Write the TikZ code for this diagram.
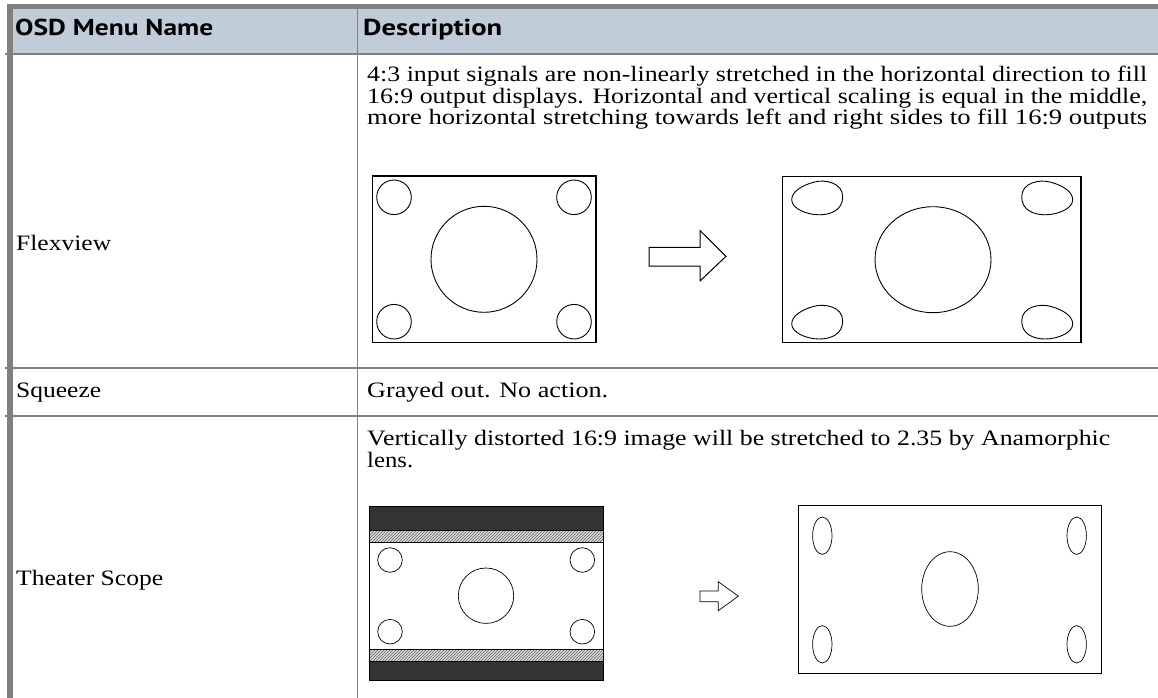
\documentclass[tikz,border=0pt]{standalone}
\usepackage{fontspec}
\setmainfont{Liberation Serif}
\newfontfamily\hdrfont{PT Sans}
\usetikzlibrary{patterns}
\newcommand\fitw[2]{\resizebox{#1}{\height}{#2}}
\definecolor{hdrbg}{RGB}{192,205,217}
\definecolor{rulegray}{RGB}{128,128,128}
\definecolor{bandgray}{RGB}{51,51,51}
\newcommand\eggshape[4]{%
  \begin{scope}[shift={(#1,#2)},xscale=#3]
    \draw[figline] (-25.5,2) .. controls (-25.5,-6) and (-16,-12) .. (-4,-15.5)
      .. controls (8,-19) and (25.5,-15) .. (25.5,-1)
      .. controls (25.5,12) and (14,17) .. (2,17)
      .. controls (-10,17) and (-25.5,11) .. cycle;
    \coordinate (#4) at (0,0);
  \end{scope}}
\begin{document}
\begin{tikzpicture}[x=1pt,y=-1pt,
  bodytext/.style={anchor=base west,inner sep=0pt,font=\fontsize{22}{26}\selectfont},
  headtext/.style={anchor=base west,inner sep=0pt,font=\hdrfont\bfseries\fontsize{23}{27}\selectfont},
  figline/.style={draw=black,line width=0.9pt},
  frameline/.style={draw=black,line width=1.5pt},
  hatchband/.style={pattern=north east lines,pattern color=gray!80!black},
  blockarrow/.style={draw=black,line width=1pt,fill=white,line join=miter}]
\useasboundingbox (0,0) rectangle (1158,698);
\fill[white] (0,0) rectangle (1158,698);
% table frame
\fill[hdrbg] (13,9) rectangle (1158,53);
\fill[rulegray] (7,4) rectangle (1158,9);
\fill[rulegray] (7,4) rectangle (13,698);
\fill[rulegray] (5,53) rectangle (1158,55.5);
\fill[rulegray] (5,367.2) rectangle (1158,368.8);
\fill[rulegray] (5,415.2) rectangle (1158,416.8);
\fill[rulegray] (356.8,9) rectangle (358.3,698);
% header
\node[headtext] (h1) at (15,36) {\fitw{198pt}{OSD Menu Name}};
\node[headtext] (h2) at (363,36) {\fitw{139pt}{Description}};
% Flexview row
\node[bodytext] (l1) at (16,250) {\fitw{95pt}{Flexview}};
\node[bodytext] (d1a) at (367,81.5) {\fitw{780pt}{4:3 input signals are non-linearly stretched in the horizontal direction to fill}};
\node[bodytext] (d1b) at (367,103) {\fitw{780pt}{16:9 output displays. Horizontal and vertical scaling is equal in the middle,}};
\node[bodytext] (d1c) at (367,124.5) {\fitw{780pt}{more horizontal stretching towards left and right sides to fill 16:9 outputs}};
% Squeeze row
\node[bodytext] (l2) at (16,397) {\fitw{85pt}{Squeeze}};
\node[bodytext] (d2) at (367,397) {\fitw{241pt}{Grayed out. No action.}};
% Theater Scope row
\node[bodytext] (l3) at (16,585) {\fitw{147pt}{Theater Scope}};
\node[bodytext] (d3a) at (367,445) {\fitw{743pt}{Vertically distorted 16:9 image will be stretched to 2.35 by Anamorphic}};
\node[bodytext] (d3b) at (367,467) {\fitw{46pt}{lens.}};
% Flexview figure, left (4:3)
\draw[frameline] (372.7,176) rectangle (596,342.7);
\draw[figline] (394,197.3) circle (17.3);
\draw[figline] (574,197.3) circle (17.3);
\draw[figline] (394,321.7) circle (17.3);
\draw[figline] (574,321.7) circle (17.3);
\draw[figline] (484,259.3) circle (53);
\draw[blockarrow] (649,247.3) -- (700,247.3) -- (700,230.5) -- (726,256.3) -- (700,281) -- (700,266) -- (649,266) -- cycle;
% Flexview figure, right (16:9)
\draw[frameline] (782.7,176.7) rectangle (1081,342.7);
\draw[figline] (933,259.7) ellipse [x radius=58, y radius=53];
\eggshape{817.2}{197.8}{1}{e1}
\eggshape{1047.2}{197.8}{-1}{e2}
\eggshape{817.2}{322}{1}{e3}
\eggshape{1047.2}{322}{-1}{e4}
% Theater Scope figure, left
\fill[bandgray] (369.3,506.7) rectangle (603.3,530.7);
\fill[bandgray] (369.3,661) rectangle (603.3,680);
\fill[gray!30] (369.3,530.7) rectangle (603.3,542.7);
\fill[gray!30] (369.3,649.3) rectangle (603.3,661);
\path[hatchband] (369.3,530.7) rectangle (603.3,542.7);
\path[hatchband] (369.3,649.3) rectangle (603.3,661);
\draw[black,line width=0.8pt] (369.3,506.7) rectangle (603.3,680);
\draw[black,line width=0.6pt] (369.3,530.7) -- (603.3,530.7);
\draw[black,line width=0.6pt] (369.3,542.7) -- (603.3,542.7);
\draw[black,line width=0.6pt] (369.3,649.3) -- (603.3,649.3);
\draw[black,line width=0.6pt] (369.3,661) -- (603.3,661);
\draw[figline,line width=0.7pt] (390,560) circle (12.3);
\draw[figline,line width=0.7pt] (582.3,560) circle (12.3);
\draw[figline,line width=0.7pt] (390,631.7) circle (12.3);
\draw[figline,line width=0.7pt] (582.3,631.7) circle (12.3);
\draw[figline,line width=0.7pt] (486,595.7) circle (27.7);
\draw[blockarrow,line width=0.7pt] (700,591) -- (718.3,591) -- (718.3,581.7) -- (738.3,596.2) -- (718.3,610.7) -- (718.3,601.7) -- (700,601.7) -- cycle;
% Theater Scope figure, right
\draw[black,line width=0.8pt] (798.3,505) rectangle (1101.7,673.3);
\draw[figline,line width=0.7pt] (822.3,535.7) ellipse [x radius=9.7, y radius=18.7];
\draw[figline,line width=0.7pt] (1076.7,535.7) ellipse [x radius=9.7, y radius=18.7];
\draw[figline,line width=0.7pt] (822.3,644.3) ellipse [x radius=9.7, y radius=18.7];
\draw[figline,line width=0.7pt] (1076.7,644.3) ellipse [x radius=9.7, y radius=18.7];
\draw[figline,line width=0.7pt] (950,589) ellipse [x radius=28.3, y radius=37.3];
\end{tikzpicture}
\end{document}
